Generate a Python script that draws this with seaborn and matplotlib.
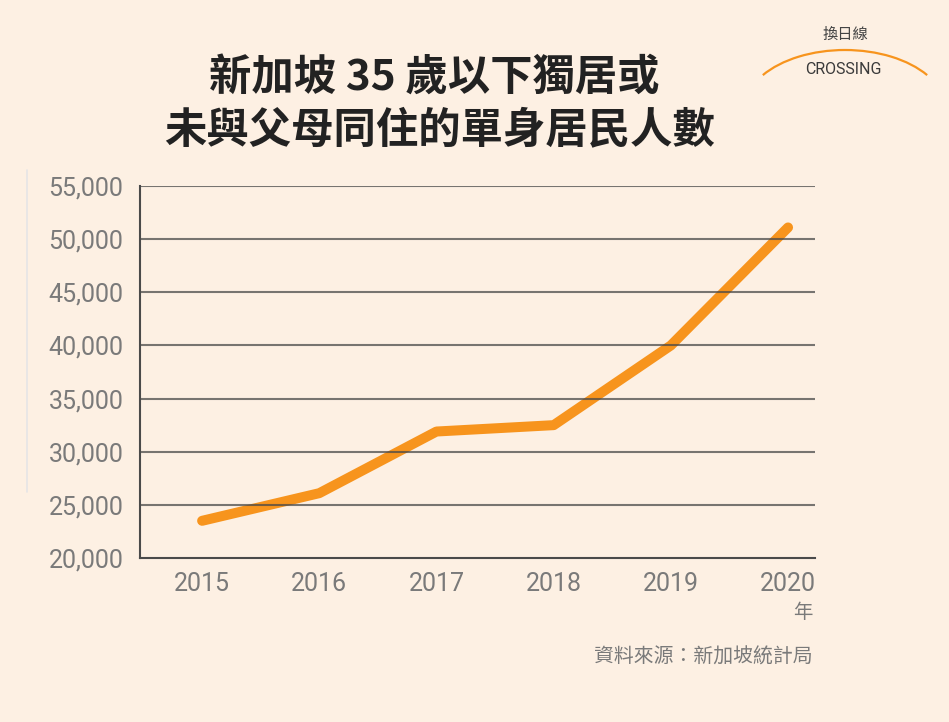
import matplotlib
matplotlib.use("Agg")
import matplotlib.pyplot as plt
import seaborn as sns
import pandas as pd
from matplotlib.patches import Arc
from matplotlib.lines import Line2D

years = [2015, 2016, 2017, 2018, 2019, 2020]
residents = [23500, 26100, 31900, 32500, 40000, 51100]
yticks = [20000, 25000, 30000, 35000, 40000, 45000, 50000, 55000]
title_lines = ["新加坡 35 歲以下獨居或", "未與父母同住的單身居民人數"]
x_unit = "年"
source = "資料來源：新加坡統計局"

BG = "#FDF0E3"
ORANGE = "#F7941D"
GRID = "#4A4A4A"
TICK = "#7A7A7A"

sns.set_theme(style="white")
plt.rcParams['font.family'] = ['Noto Sans CJK TC', 'DejaVu Sans']

df = pd.DataFrame({"year": years, "value": residents})

fig = plt.figure(figsize=(9.49, 7.22), dpi=100, facecolor=BG)
ax = fig.add_axes([140/949, 164/722, 675/949, 372/722])
ax.set_facecolor(BG)

sns.lineplot(data=df, x="year", y="value", ax=ax, color=ORANGE, linewidth=7.2,
             solid_capstyle="round", solid_joinstyle="round", zorder=2)

ax.set_xlim(2014.47, 2020.23)
ax.set_ylim(20000, 55000)
ax.set_xticks(years)
ax.set_xticklabels([str(y) for y in years], family=['Roboto', 'DejaVu Sans'])
ax.set_yticks(yticks)
ax.set_yticklabels([f"{v:,}" for v in yticks], family=['Roboto', 'DejaVu Sans'])
ax.tick_params(axis='both', length=0, labelsize=18, labelcolor=TICK)
ax.tick_params(axis='x', pad=10)
ax.tick_params(axis='y', pad=12)
ax.set_xlabel("")
ax.set_ylabel("")

for v in yticks[1:]:
    ax.axhline(v, color=GRID, linewidth=1.5, alpha=0.75, zorder=3)

for s in ["top", "right"]:
    ax.spines[s].set_visible(False)
for s in ["left", "bottom"]:
    ax.spines[s].set_color(GRID)
    ax.spines[s].set_linewidth(1.5)
    ax.spines[s].set_zorder(3)

# Titles
fig.text(434/949, 1 - 78/722, title_lines[0], ha="center", va="center",
         fontsize=30.5, fontweight="bold", color="#222222")
fig.text(440/949, 1 - 130/722, title_lines[1], ha="center", va="center",
         fontsize=30.5, fontweight="bold", color="#222222")

fig.text(813/949, 1 - 612/722, x_unit, ha="right", va="center", fontsize=14, color=TICK)
fig.text(813/949, 1 - 657/722, source, ha="right", va="center", fontsize=14.3, color=TICK)

# Logo
fig.text(845/949, 1 - 34/722, "換日線", ha="center", va="center", fontsize=11, color="#444444")
fig.text(843/949, 1 - 70/722, "CROSSING", ha="center", va="center", fontsize=11.5,
         color="#3A3A3A", family=['Roboto', 'DejaVu Sans'])
arc = Arc((845, 722 - 110), 202, 120, theta1=23, theta2=157, color=ORANGE, linewidth=1.6,
          transform=None)
fig.add_artist(arc)

# faint vertical line at left
fig.add_artist(Line2D([27/949, 27/949], [1 - 170/722, 1 - 492/722], color="#E6E4E6",
                      linewidth=1.2, transform=fig.transFigure))

fig.savefig("out.png", dpi=100, facecolor=BG)
